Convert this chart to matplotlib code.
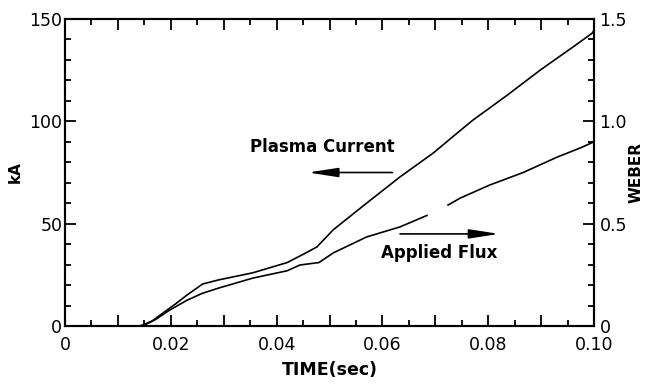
import matplotlib.pyplot as plt
import numpy as np
from matplotlib.ticker import FuncFormatter, MultipleLocator

plt.rcParams['font.family'] = ['DejaVu Sans']

# Plasma current (kA)
t_cur = [0.0140, 0.0147, 0.0165, 0.0185, 0.0210, 0.0230, 0.0260, 0.0290, 0.0355,
         0.0420, 0.0450, 0.0476, 0.0507, 0.0570, 0.0633, 0.0696, 0.0740, 0.0771,
         0.0836, 0.0898, 0.0960, 0.0996, 0.1000]
cur = [0.0, 0.5, 2.5, 6.3, 11.0, 15.0, 20.5, 22.5, 26.0,
       31.0, 35.0, 38.6, 47.0, 60.0, 72.8, 84.5, 94.0, 100.6,
       112.8, 125.0, 136.3, 143.0, 144.5]

# Applied flux (Weber); nan = gap in the trace
t_flux = [0.0147, 0.0170, 0.0198, 0.0230, 0.0260, 0.0290, 0.0355, 0.0420, 0.0444,
          0.0480, 0.0507, 0.0570, 0.0633, 0.0684, 0.0700, 0.0724, 0.0747, 0.0803,
          0.0866, 0.0930, 0.0974, 0.1000]
flux = [0.0, 0.03, 0.078, 0.125, 0.16, 0.185, 0.234, 0.27, 0.298,
        0.31, 0.357, 0.435, 0.484, 0.54, np.nan, 0.591, 0.625, 0.689,
        0.75, 0.825, 0.87, 0.90]

fig = plt.figure(figsize=(6.46, 3.88), dpi=100)
ax = fig.add_axes([0.1006, 0.1598, 0.819, 0.7912])
ax2 = ax.twinx()

ax.plot(t_cur, cur, color='black', lw=1.2)
ax2.plot(t_flux, flux, color='black', lw=1.2)

ax.set_xlim(0, 0.1)
ax.set_ylim(0, 150)
ax2.set_ylim(0, 1.5)

for a in (ax, ax2):
    for s in a.spines.values():
        s.set_linewidth(1.5)

# ticks inward, like the original
ax.xaxis.set_major_locator(MultipleLocator(0.01))
ax.xaxis.set_minor_locator(MultipleLocator(0.005))
ax.xaxis.set_major_formatter(FuncFormatter(
    lambda v, p: ('0' if abs(v) < 1e-9 else f"{v:.2f}") if round(v * 100) % 2 == 0 else ''))
ax.yaxis.set_major_locator(MultipleLocator(50))
ax.yaxis.set_minor_locator(MultipleLocator(10))
ax2.yaxis.set_major_locator(MultipleLocator(0.5))
ax2.yaxis.set_minor_locator(MultipleLocator(0.1))
ax2.yaxis.set_major_formatter(FuncFormatter(lambda v, p: '0' if v == 0 else f"{v:.1f}"))

ax.tick_params(which='both', direction='in', top=True, right=False, labelsize=12.5, width=1.3)
ax.tick_params(which='major', length=8)
ax.tick_params(which='minor', length=4)
ax.tick_params(axis='x', pad=7)
ax.tick_params(axis='y', pad=2)
ax2.tick_params(which='both', direction='in', labelsize=12.5, width=1.3)
ax2.tick_params(which='major', length=8, pad=4)
ax2.tick_params(which='minor', length=4)

ax.set_xlabel('TIME(sec)', fontsize=12.5, fontweight='bold', labelpad=5)
ax.set_ylabel('kA', fontsize=11, fontweight='bold', labelpad=5)
ax2.set_ylabel('WEBER', fontsize=11, fontweight='bold', labelpad=1)

# labels with arrows (long narrow heads as in the scan)
arrow = dict(arrowstyle='-|>,head_length=1.3,head_width=0.2', color='black', lw=1.2, mutation_scale=14)
ax.text(0.0486, 87.4, 'Plasma Current', fontsize=12, fontweight='bold', ha='center', va='center')
ax.annotate('', xy=(0.0454, 75), xytext=(0.0624, 75), arrowprops=arrow)
ax.text(0.0708, 35.7, 'Applied Flux', fontsize=12, fontweight='bold', ha='center', va='center')
ax.annotate('', xy=(0.0826, 45), xytext=(0.0628, 45), arrowprops=arrow)

plt.savefig('out.png', dpi=100)
